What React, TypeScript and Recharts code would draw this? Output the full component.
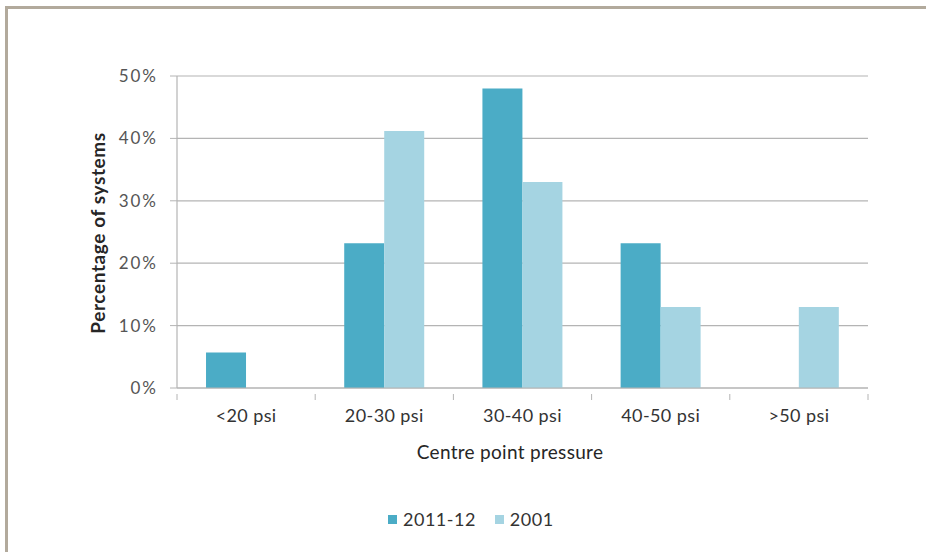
import { BarChart, Bar, XAxis, YAxis, CartesianGrid } from 'recharts';

const categories = ['<20 psi', '20-30 psi', '30-40 psi', '40-50 psi', '>50 psi'];
const series2011 = [5.7, 23.2, 48, 23.2, 0];
const series2001 = [0, 41.2, 33, 13, 13];
const yTicks = [0, 10, 20, 30, 40, 50];
const seriesNames = ['2011-12', '2001'];

const data = categories.map((name, i) => ({ name, s2011: series2011[i], s2001: series2001[i] }));

const DARK = '#4BACC6';
const LIGHT = '#A5D4E2';
const GRID = '#B4B4B4';
const FONT = 'Lato, "Open Sans", sans-serif';

const PLOT_LEFT = 177;
const PLOT_RIGHT = 868;
const BAND = (PLOT_RIGHT - PLOT_LEFT) / categories.length;

function XTick(props: any) {
    const { x, y, payload, index } = props;
    const half = BAND / 2;
    return (
        <g>
            <line x1={x - half} y1={y - 2} x2={x - half} y2={y + 4} stroke={GRID} />
            {index === categories.length - 1 && (
                <line x1={x + half} y1={y - 2} x2={x + half} y2={y + 4} stroke={GRID} />
            )}
            <text x={x} y={y + 26} textAnchor="middle" fill="#333333" fontSize={18} letterSpacing={0.4} fontFamily={FONT}>
                {payload.value}
            </text>
        </g>
    );
}

function LegendBox() {
    const colors = [DARK, LIGHT];
    return (
        <div style={{ position: 'absolute', left: 388, top: 508, display: 'flex', alignItems: 'center', fontFamily: FONT, fontSize: 18, color: '#333333', letterSpacing: 0.5 }}>
            {seriesNames.map((n, i) => (
                <div key={n} style={{ display: 'flex', alignItems: 'center', marginRight: 19 }}>
                    <span style={{ display: 'inline-block', width: 9, height: 9, background: colors[i], marginRight: 6 }} />
                    <span>{n}</span>
                </div>
            ))}
        </div>
    );
}

export default function App() {
    return (
        <div style={{ position: 'absolute', left: 0, top: 0, width: 926, height: 552, background: '#fff' }}>
            <div style={{ position: 'absolute', left: 5, top: 6, right: 0, bottom: 0, borderTop: '3px solid #B2AA9C', borderLeft: '3px solid #B2AA9C' }} />
            <BarChart
                width={926}
                height={552}
                data={data}
                margin={{ top: 76, right: 926 - PLOT_RIGHT, left: PLOT_LEFT - 60, bottom: 552 - 388 - 30 }}
                barCategoryGap="21%"
                barGap={0}
                style={{ position: 'absolute', left: 0, top: 0 }}
            >
                <CartesianGrid vertical={false} stroke={GRID} strokeWidth={1.2} />
                <XAxis
                    dataKey="name"
                    axisLine={{ stroke: GRID, strokeWidth: 1.2 }}
                    tickLine={false}
                    tick={<XTick />}
                    interval={0}
                    height={30}
                />
                <YAxis
                    width={60}
                    domain={[0, 50]}
                    ticks={yTicks}
                    tickFormatter={(v) => `${v}%`}
                    axisLine={{ stroke: GRID, strokeWidth: 1.2 }}
                    tickLine={{ stroke: GRID }}
                    tickSize={7}
                    tickMargin={12}
                    tick={{ fill: '#555555', fontSize: 17, letterSpacing: 2, fontFamily: FONT }}
                />
                <Bar dataKey="s2011" name={seriesNames[0]} fill={DARK} isAnimationActive={false} />
                <Bar dataKey="s2001" name={seriesNames[1]} fill={LIGHT} isAnimationActive={false} />
                <text x={97} y={233} transform="rotate(-90 97 233)" textAnchor="middle" dominantBaseline="central" fontFamily={FONT} fontWeight="bold" fontSize={19} letterSpacing={0.6} fill="#262626">
                    Percentage of systems
                </text>
                <text x={510} y={451} textAnchor="middle" dominantBaseline="central" fontFamily={FONT} fontSize={19} letterSpacing={0.3} fill="#262626">
                    Centre point pressure
                </text>
            </BarChart>
            <LegendBox />
        </div>
    );
}
